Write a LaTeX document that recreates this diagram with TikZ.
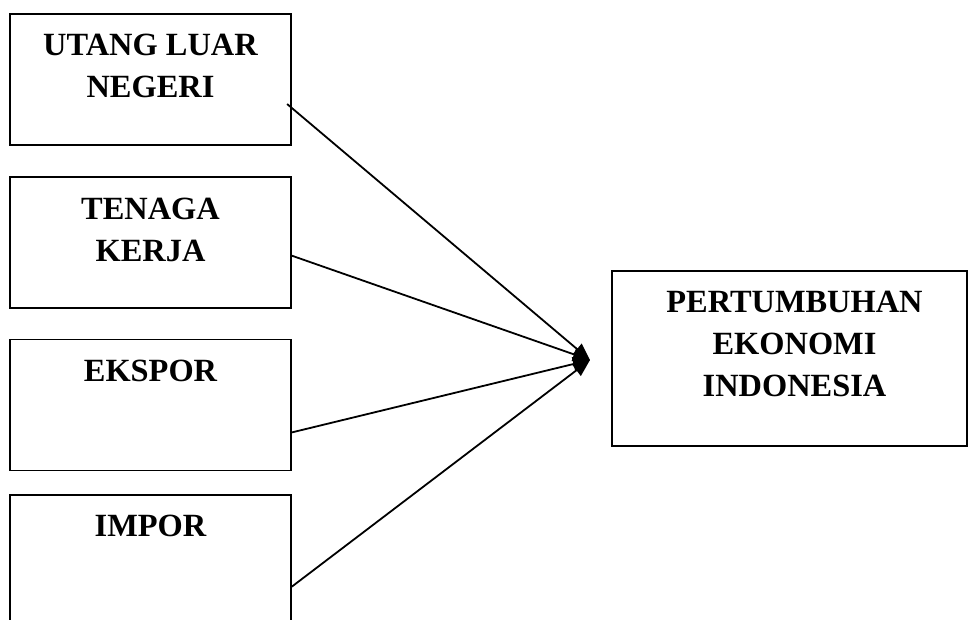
\documentclass[tikz,border=0pt]{standalone}
\usepackage{fontspec}
\setmainfont{Liberation Serif}
\usetikzlibrary{positioning,arrows.meta}

\tikzset{
  varbox/.style={rectangle, draw, line width=0.9pt, minimum width=140.5pt, minimum height=65.5pt},
  vartext/.style={anchor=north, inner sep=0pt, yshift=-10.5pt, align=center,
    font=\fontsize{16.2}{21}\selectfont\bfseries},
  panah/.style={-{Triangle[length=8.5pt,width=7pt]}, line width=0.9pt}
}

\begin{document}
\begin{tikzpicture}[x=0.5pt, y=-0.5pt, node distance=15.2pt]
\useasboundingbox (0,0) rectangle (968,620);

% Kotak variabel
\node (utang) [varbox] at (150.5,79.5) {};
\node (tenaga) [varbox, below=of utang] {};
\node (ekspor) [varbox, below=14.7pt of tenaga] {};
\node (impor) [varbox, below=11.2pt of ekspor] {};
\node (pertumbuhan) [varbox, minimum width=177.5pt, minimum height=87.5pt] at (789.5,358.5) {};

% Teks
\node (utangteks) [vartext] at (utang.north) {UTANG LUAR\\NEGERI};
\node (tenagateks) [vartext] at (tenaga.north) {TENAGA\\KERJA};
\node (eksporteks) [vartext] at (ekspor.north) {EKSPOR};
\node (importeks) [vartext] at (impor.north) {IMPOR};
\node (pertumbuhanteks) [vartext, xshift=2.5pt] at (pertumbuhan.north) {PERTUMBUHAN\\EKONOMI\\INDONESIA};

% Panah
\coordinate (temu) at (590,360);
\draw[panah] ([xshift=-2.4pt, yshift=-12.25pt]utang.east) -- (temu);
\draw[panah] ([yshift=-6.5pt]tenaga.east) -- (temu);
\draw[panah] ([yshift=-13.75pt]ekspor.east) -- (temu);
\draw[panah] ([yshift=-13.25pt]impor.east) -- (temu);

\end{tikzpicture}
\end{document}
